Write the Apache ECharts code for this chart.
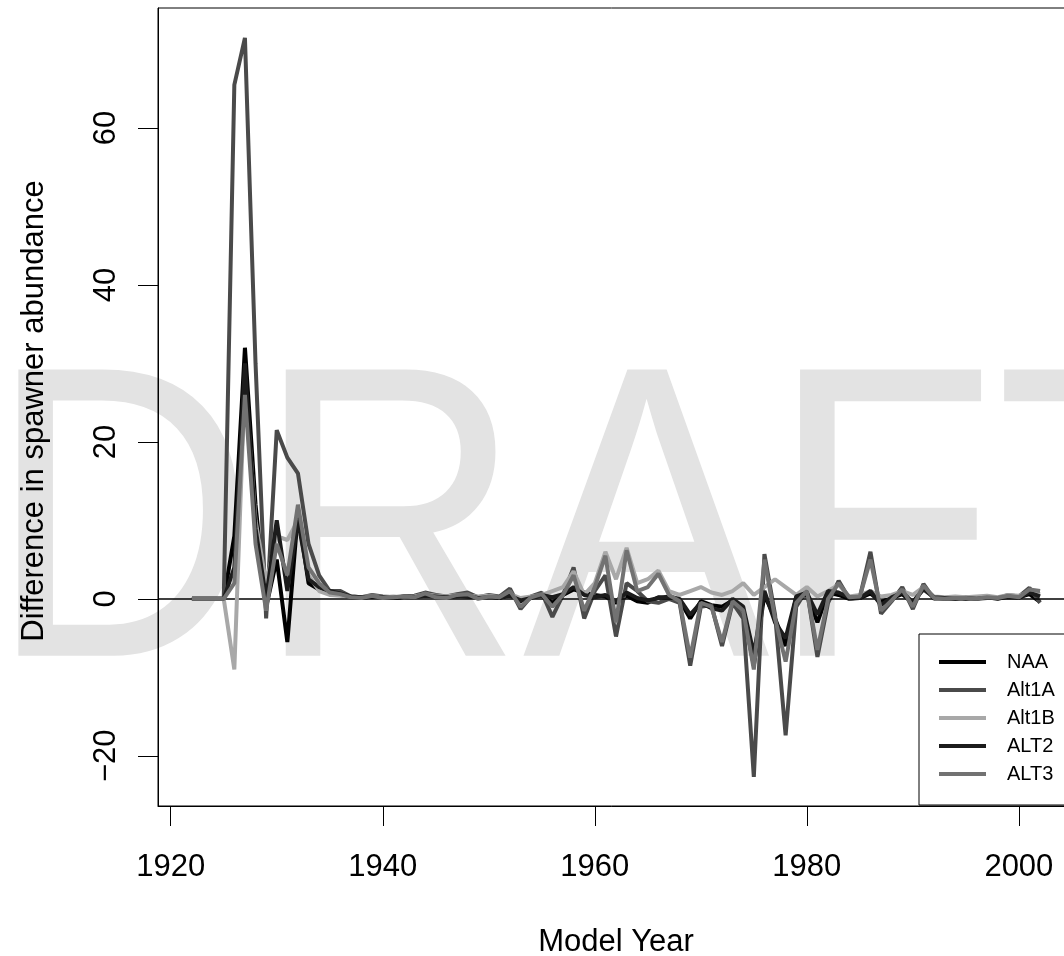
<!DOCTYPE html>
<html>
<head>
<meta charset="utf-8">
<script src="https://cdn.jsdelivr.net/npm/echarts@6/dist/echarts.min.js"></script>
<style>
html,body{margin:0;padding:0;background:#fff;}
#chart{width:1064px;height:956px;}
</style>
</head>
<body>
<div id="chart"></div>
<script>
// Model years 1922..2002
var years = [];
for (var yr = 1922; yr <= 2002; yr++) years.push(yr);

var seriesNames = ['NAA', 'Alt1A', 'Alt1B', 'ALT2', 'ALT3'];

var naa = [0,0,0,0,8,32,12,-1,5,-5.5,11,2,1.2,0.8,
  0.5,0.2,0.1,0.3,0.2,0.1,0.2,0.3,0.5,0.3,0.2,0.4,0.3,0.2,0.3,0.1,0.5,-0.3,0.2,0.4,
  -0.5,0.5,1.2,0.8,0.5,0.3,-0.5,0.4,-0.3,-0.5,0.2,0.1,-0.2,-2.5,-0.3,-0.8,-1,-0.2,-1.5,-8.5,
  0.5,-2.5,-6,0.2,0.5,-3,0.8,0.5,0,0.1,0.7,-0.4,0.1,0.6,-0.5,1.5,0.1,0,0.1,0,0.1,0.2,0,0.3,0.2,0.6,-0.4];

var alt1A = [0,0,0,0,65.5,71.5,30,-2.5,21.5,18,16,7,3,1,
  1,0.3,0.2,0.5,0.3,0.2,0.3,0.4,0.8,0.5,0.3,0.6,0.8,0.2,0.5,0.3,1.3,-1.3,0.3,0.8,
  -2.3,0.5,4,-2.5,1,3,-4.8,2,1,-0.3,-0.5,0,-0.5,-8.5,-1,-0.8,-6,-0.5,-2.5,-22.7,
  5.7,-2,-17.4,-1,1.2,-7.4,-0.5,2.3,0,0.2,6,-1.9,-0.3,1.5,-1.3,1.9,0,0.1,0,0.2,0,0.3,0.1,0.5,0.3,1.4,-0.5];

var alt1B = [0,0,0,0,-9,28,10,2,8,7.5,10,3,1,0.5,
  0.4,0.3,0.2,0.4,0.2,0.3,0.2,0.3,0.6,0.4,0.3,0.5,0.4,0.3,0.4,0.2,0.6,0.1,0.3,0.5,
  1,1.5,3.5,0.5,2,6,2.5,6.5,2,2.5,3.6,1,0.5,1,1.5,0.8,0.5,1,2,0.5,
  1.5,2.5,1.5,0.5,1.5,0.3,1,1.8,0.3,0.5,1,0.3,0.5,1,0.5,1.5,0.3,0.2,0.3,0.2,0.3,0.4,0.2,0.5,0.4,0.9,0.6];

var alt2 = [0,0,0,0,4,30,9,0,10,1,10,2.5,1.5,1,
  0.7,0.3,0.2,0.3,0.2,0.1,0.3,0.2,0.4,0.3,0.2,0.3,0.4,0.1,0.2,0.2,0.4,-0.2,0.1,0.5,
  0.2,0.6,1.5,0.5,0.2,0.5,-0.3,0.8,0.1,-0.2,0.1,0.3,0,-2,-0.5,-1.2,-1.5,0,-1,-7,
  1,-3,-5,0.3,0.8,-2,1,0.8,0.2,0.1,1,-0.8,0.2,0.8,-0.4,1.2,0.2,0.1,0,0.1,0,0.1,0.1,0.2,0.1,0.8,0.3];

var alt3 = [0,0,0,0,2,26,7,-1.5,7,3,12,4,2,0.8,
  0.6,0.2,0.1,0.4,0.1,0.2,0.3,0.2,0.7,0.2,0.1,0.5,0.6,0,0.3,0.2,1,-1,0.2,0.6,
  -1,0.5,3,-1.5,1.5,5.5,-3,6.2,1,1.5,3.2,0.5,-0.3,-7.5,-0.5,-1,-5.5,-0.3,-1.5,-9,
  5,-2.5,-8,-0.5,1,-6.5,0,2,0.2,0.3,5,-1.5,-0.2,1.2,-1,1.7,0.1,0,0.1,0.1,0,0.2,0.1,0.4,0.2,1.2,1];

var seriesValues = [naa, alt1A, alt1B, alt2, alt3];
var seriesColors = ['#000000', '#4a4a4a', '#a8a8a8', '#1c1c1c', '#727272'];

var xTicks = [1920, 1940, 1960, 1980, 2000];
var yTicks = [-20, 0, 20, 40, 60];

var FONT = '"Liberation Sans", Arial, Helvetica, sans-serif';

var chart = echarts.init(document.getElementById('chart'), null, {renderer: 'canvas'});

var series = seriesNames.map(function (name, k) {
  var s = {
    name: name,
    type: 'line',
    showSymbol: false,
    symbol: 'none',
    animation: false,
    lineStyle: {width: 4, color: seriesColors[k]},
    itemStyle: {color: seriesColors[k]},
    data: years.map(function (y, i) { return [y, seriesValues[k][i]]; }),
    z: 3 + k
  };
  if (k === 0) {
    s.markLine = {
      silent: true,
      symbol: ['none', 'none'],
      label: {show: false},
      lineStyle: {color: '#000', width: 1.5, type: 'solid'},
      data: [{yAxis: 0}],
      animation: false
    };
  }
  return s;
});

chart.setOption({
  backgroundColor: '#ffffff',
  animation: false,
  textStyle: {fontFamily: FONT},
  grid: {
    left: 158, top: 8, width: 916, height: 798,
    show: true, borderColor: '#000', borderWidth: 1,
    containLabel: false, outerBoundsMode: 'none'
  },
  xAxis: {
    type: 'value', min: 1918.8, max: 2005.2,
    axisLine: {show: true, onZero: false, lineStyle: {color: '#000', width: 1}},
    axisTick: {show: true, customValues: xTicks, length: 20, lineStyle: {color: '#000', width: 1}},
    axisLabel: {show: true, customValues: xTicks, fontSize: 31, color: '#000', margin: 46, fontFamily: FONT,
      formatter: function (v) { return String(v); }},
    splitLine: {show: false}
  },
  yAxis: {
    type: 'value', min: -26.4, max: 75.3,
    axisLine: {show: true, onZero: false, lineStyle: {color: '#000', width: 1}},
    axisTick: {show: true, customValues: yTicks, length: 20, lineStyle: {color: '#000', width: 1}},
    axisLabel: {show: true, customValues: yTicks, fontSize: 31, color: '#000', rotate: 90, margin: 36, fontFamily: FONT,
      formatter: function (v) { return String(v).replace('-', '\u2212'); }},
    splitLine: {show: false}
  },
  legend: {
    show: true,
    orient: 'vertical',
    left: 919, top: 634,
    data: seriesNames,
    icon: 'rect',
    itemWidth: 47, itemHeight: 4,
    itemGap: 8,
    padding: [18, 40, 21, 20],
    backgroundColor: '#fff',
    borderColor: '#000', borderWidth: 1, borderRadius: 0,
    selectedMode: false,
    textStyle: {fontSize: 20, color: '#000', fontFamily: FONT, padding: [0, 0, 0, 16]}
  },
  graphic: [
    {
      type: 'text', z: -10, silent: true,
      x: -12, y: 541, scaleX: 0.89, scaleY: 1,
      style: {text: 'DRAFT', fill: '#e3e3e3', fontSize: 416, fontFamily: FONT, textAlign: 'left', textVerticalAlign: 'middle'}
    },
    {
      type: 'text', z: 10, silent: true,
      x: 34, y: 411, rotation: Math.PI / 2,
      style: {text: 'Difference in spawner abundance', fill: '#000', fontSize: 31, fontFamily: FONT, textAlign: 'center', textVerticalAlign: 'middle'}
    },
    {
      type: 'text', z: 10, silent: true,
      x: 616, y: 942,
      style: {text: 'Model Year', fill: '#000', fontSize: 31, fontFamily: FONT, textAlign: 'center', textVerticalAlign: 'middle'}
    }
  ],
  series: series
});
</script>
</body>
</html>
